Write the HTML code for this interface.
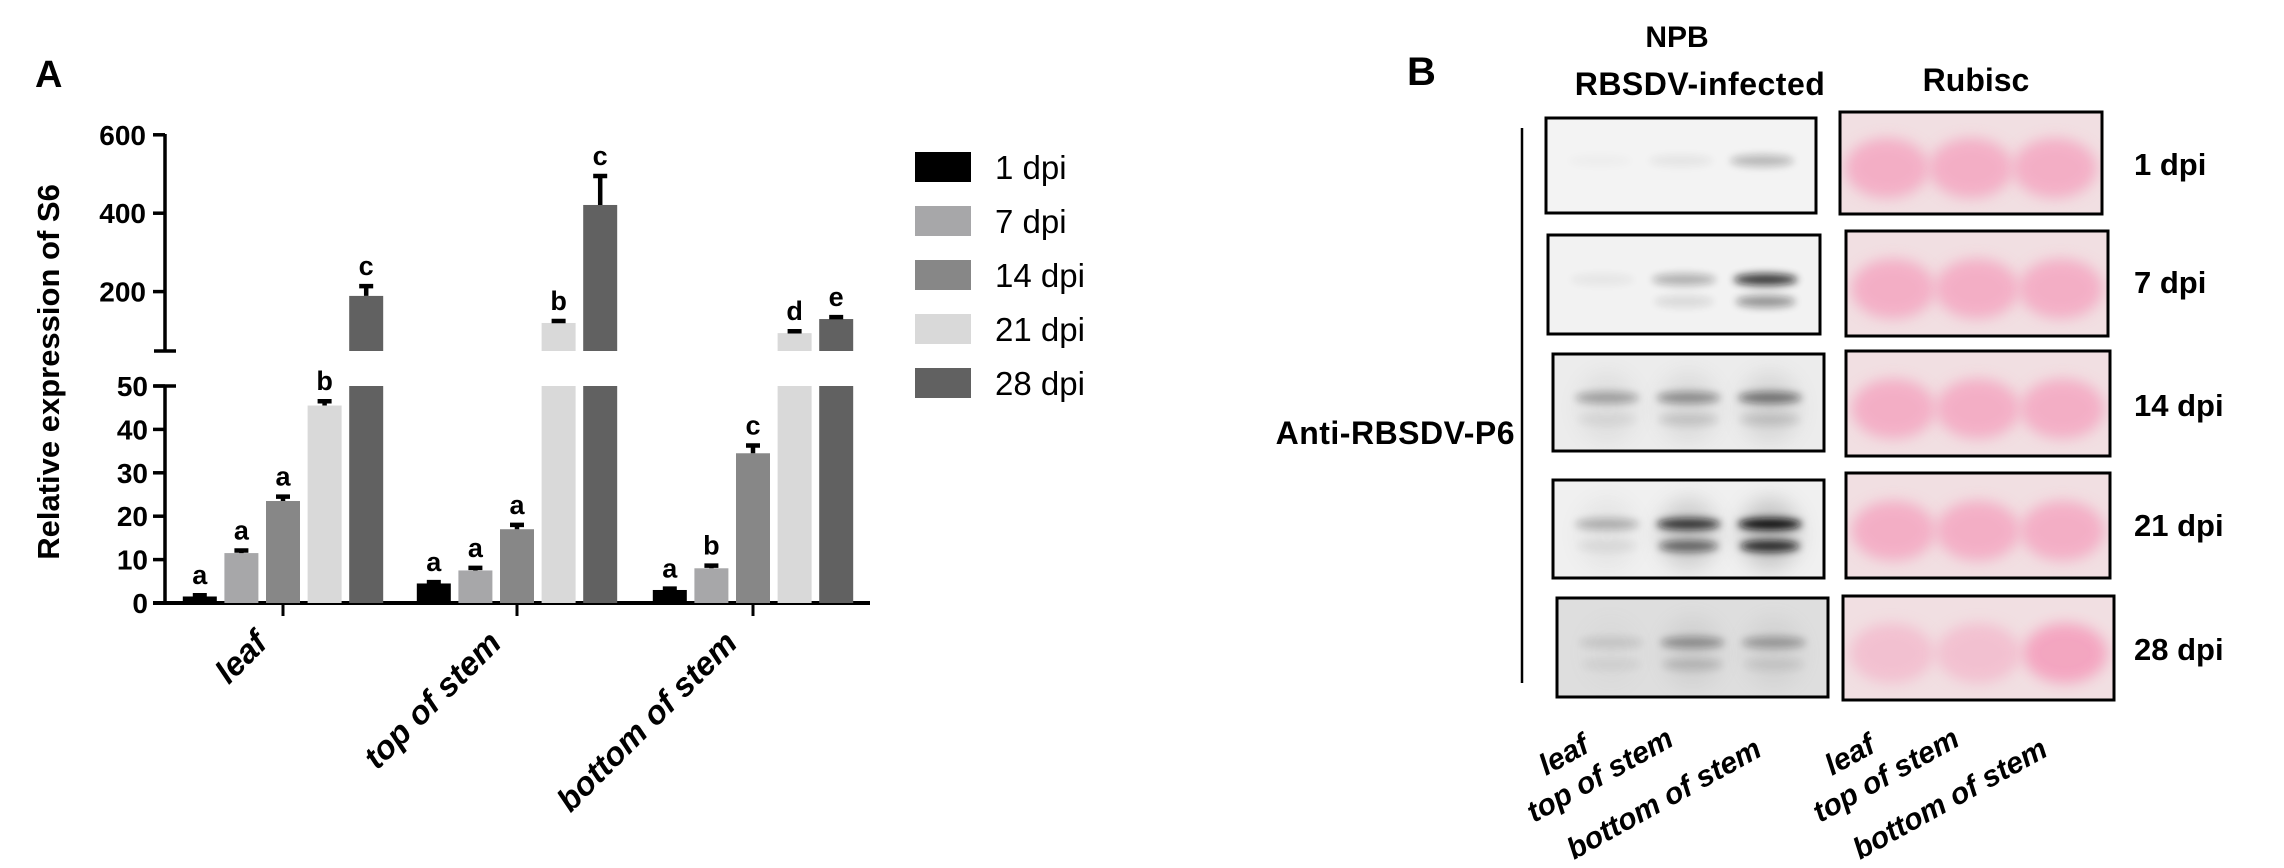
<!DOCTYPE html>
<html><head><meta charset="utf-8"><style>
html,body{margin:0;padding:0;background:#fff;}
svg{display:block;font-family:"Liberation Sans",Arial,sans-serif;}
</style></head><body>
<svg id="fig" width="2284" height="868" viewBox="0 0 2284 868">
<defs>
<filter id="blur6" x="-50%" y="-100%" width="200%" height="300%"><feGaussianBlur stdDeviation="7"/></filter>
<filter id="blur3" x="-50%" y="-100%" width="200%" height="300%"><feGaussianBlur stdDeviation="4"/></filter>
<filter id="blur10" x="-50%" y="-100%" width="200%" height="300%"><feGaussianBlur stdDeviation="10"/></filter>
</defs>
<g id="panelA"></g>
<g id="panelB"></g>
</svg>
<script>
const categories = ["leaf","top of stem","bottom of stem"];
const seriesNames = ["1 dpi","7 dpi","14 dpi","21 dpi","28 dpi"];
const seriesColors = ["#000000","#a7a7a9","#878787","#d9d9d9","#616161"];
const v1 = [1.5, 4.5, 3];
const v7 = [11.5, 7.5, 8];
const v14 = [23.5, 17, 34.5];
const v21 = [45.5, 120, 94];
const v28 = [189, 421, 130];
const e1 = [0.3, 0.3, 0.3];
const e7 = [0.6, 0.6, 0.6];
const e14 = [1, 1, 1.8];
const e21 = [1, 5, 5];
const e28 = [25, 74, 5];
const sig1 = ["a","a","a"];
const sig7 = ["a","a","b"];
const sig14 = ["a","a","c"];
const sig21 = ["b","b","d"];
const sig28 = ["c","c","e"];
const lowerTicks = [0,10,20,30,40,50];
const upperTicks = [200,400,600];

const NS="http://www.w3.org/2000/svg";
function mk(tag, attrs, parent){const e=document.createElementNS(NS,tag);for(const k in attrs)e.setAttribute(k,attrs[k]);parent.appendChild(e);return e;}
const A=document.getElementById('panelA');
const B=document.getElementById('panelB');

const LOW_MAX=50, LOW0=603, LOWTOP=386, UPBOT=351;
function yLow(v){return LOW0-(Math.min(v,LOW_MAX))*(LOW0-LOWTOP)/LOW_MAX;}
function yUp(v){return 370-0.392*v;}
function yTop(v){return v>LOW_MAX?yUp(v):yLow(v);}
const groupCenters=[283,517,753];
function xBar(g,s){return groupCenters[g]+(s-2)*41.6;}
const BW=34;

let t;
t=mk('text',{x:35,y:87,'font-size':38,'font-weight':'bold'},A);t.textContent="A";



const axisG=mk('g',{stroke:'#000','stroke-width':3.5},A);


mk('line',{x1:165,y1:134,x2:165,y2:UPBOT},axisG);
mk('line',{x1:165,y1:LOWTOP,x2:165,y2:LOW0},axisG);
mk('line',{x1:154,y1:UPBOT,x2:176,y2:UPBOT},axisG);
mk('line',{x1:154,y1:LOWTOP,x2:176,y2:LOWTOP},axisG);
lowerTicks.forEach(v=>{mk('line',{x1:153,y1:yLow(v),x2:165,y2:yLow(v)},axisG);
 const tt=mk('text',{x:148,y:yLow(v)+10,'font-size':28,'font-weight':'bold','text-anchor':'end',stroke:'none'},A);tt.textContent=v;
 
 });
upperTicks.forEach(v=>{mk('line',{x1:153,y1:yUp(v),x2:165,y2:yUp(v)},axisG);
 const tt=mk('text',{x:146,y:yUp(v)+10,'font-size':28,'font-weight':'bold','text-anchor':'end',stroke:'none'},A);tt.textContent=v;
 
 });
t=mk('text',{x:0,y:0,'font-size':31,'font-weight':'bold','text-anchor':'middle',transform:'translate(59,372) rotate(-90)'},A);
t.textContent="Relative expression of S6";



const xa=mk('line',{x1:153,y1:LOW0,x2:870,y2:LOW0,stroke:'#000','stroke-width':4},A);


categories.forEach((c,i)=>{
 const tk=mk('line',{x1:groupCenters[i],y1:LOW0,x2:groupCenters[i],y2:616,stroke:'#000','stroke-width':3},A);
 
 
 const tt=mk('text',{x:0,y:0,'font-size':33,'font-weight':'bold','font-style':'italic','text-anchor':'end',transform:`translate(${groupCenters[i]-14},645) rotate(-45)`},A);
 tt.textContent=c;
 
 
});

const vals=[v1,v7,v14,v21,v28], errs=[e1,e7,e14,e21,e28], sigs=[sig1,sig7,sig14,sig21,sig28];
vals.forEach((arr,s)=>{
 arr.forEach((v,g)=>{
  const x=xBar(g,s)-BW/2;
  const col=seriesColors[s];
  const lowTop=yLow(v);
  const r=mk('rect',{x:x,y:lowTop,width:BW,height:LOW0-lowTop,fill:col},A);
  
  
  if(v>LOW_MAX){
   const r2=mk('rect',{x:x,y:yUp(v),width:BW,height:UPBOT-yUp(v),fill:col},A);
   
   
  }
  const yt=yTop(v), ye=v>LOW_MAX?yUp(v+errs[s][g]):yLow(v+errs[s][g]);
  const cx=xBar(g,s);
  const eb=mk('path',{d:`M${cx},${yt} V${ye} M${cx-7},${ye} H${cx+7}`,stroke:'#000','stroke-width':4.5,fill:'none'},A);
  
  
  const lt=mk('text',{x:cx,y:ye-11,'font-size':27,'font-weight':'bold','text-anchor':'middle'},A);
  lt.textContent=sigs[s][g];
  
  
 });
});

seriesNames.forEach((n,i)=>{
 const y=152+i*54;
 const sw=mk('rect',{x:915,y:y,width:56,height:30,fill:seriesColors[i]},A);
 
 
 const lt=mk('text',{x:995,y:y+27,'font-size':33},A);
 lt.textContent=n;
 
 
});

// ---------- Panel B ----------
function txt(x,y,s,str,opts,name){const e=mk('text',Object.assign({x:x,y:y,'font-size':s,'font-weight':'bold'},opts||{}),B);e.textContent=str;
 
 return e;}
txt(1407,85,40,"B",{},'panel-b-label');
txt(1677,47,30,"NPB",{'text-anchor':'middle'},'npb-header');
txt(1700,95,32,"RBSDV-infected",{'text-anchor':'middle','letter-spacing':'0.5'},'rbsdv-infected-header');
txt(1976,91,32,"Rubisc",{'text-anchor':'middle'},'rubisc-header');
txt(1515,444,32,"Anti-RBSDV-P6",{'text-anchor':'end','letter-spacing':'0.5'},'antibody-label');
const vl=mk('line',{x1:1522,y1:128,x2:1522,y2:683,stroke:'#000','stroke-width':2.5},B);



const leftBoxes=[[1546,118,270,95],[1548,235,272,99],[1553,354,271,97],[1553,480,271,98],[1557,598,271,99]];
const rightBoxes=[[1840,112,262,102],[1846,231,262,105],[1846,351,264,105],[1846,473,264,105],[1843,596,271,104]];
const dpiLabels=["1 dpi","7 dpi","14 dpi","21 dpi","28 dpi"];
const dpiY=[165,283,406,526,650];
const bands=[
 [[0.02,0],[0.06,0],[0.25,0]],
 [[0.05,0],[0.28,0.1],[0.8,0.4]],
 [[0.3,0.05],[0.38,0.12],[0.5,0.12]],
 [[0.25,0.06],[0.8,0.55],[1,0.85]],
 [[0.1,0.05],[0.35,0.15],[0.3,0.08]]
];
const bgGray=["#f3f3f3","#f2f2f2","#ececec","#f0f0f0","#dedede"];
leftBoxes.forEach((b,i)=>{
 const g=mk('g',{},B);
 
 
 const cid='clipL'+i;
 const cp=mk('clipPath',{id:cid},g);mk('rect',{x:b[0],y:b[1],width:b[2],height:b[3]},cp);
 mk('rect',{x:b[0],y:b[1],width:b[2],height:b[3],fill:bgGray[i]},g);
 const inner=mk('g',{'clip-path':`url(#${cid})`},g);
 for(let l=0;l<3;l++){
  const cx=b[0]+b[2]*(0.2+0.3*l);
  const by=b[1]+b[3]*0.45;
  if(i>=2){mk('ellipse',{cx:cx,cy:b[1]+b[3]*0.55,rx:30,ry:35,fill:'#777',opacity:bands[i][l][0]*0.35,filter:'url(#blur10)'},inner);}
  mk('ellipse',{cx:cx,cy:by,rx:32,ry:6,fill:'#111',opacity:bands[i][l][0],filter:'url(#blur3)'},inner);
  mk('ellipse',{cx:cx,cy:by+22,rx:30,ry:6,fill:'#111',opacity:bands[i][l][1],filter:'url(#blur3)'},inner);
 }
 mk('rect',{x:b[0],y:b[1],width:b[2],height:b[3],fill:'none',stroke:'#000','stroke-width':3},g);
});
rightBoxes.forEach((b,i)=>{
 const g=mk('g',{},B);
 
 
 const cid='clipR'+i;
 const cp=mk('clipPath',{id:cid},g);mk('rect',{x:b[0],y:b[1],width:b[2],height:b[3]},cp);
 mk('rect',{x:b[0],y:b[1],width:b[2],height:b[3],fill:'#f1dfe2'},g);
 const inner=mk('g',{'clip-path':`url(#${cid})`},g);
 for(let l=0;l<3;l++){
  const cx=b[0]+b[2]*(0.18+0.32*l);
  const op=i===4?[0.5,0.5,0.95][l]:0.8;
  mk('ellipse',{cx:cx,cy:b[1]+b[3]*0.55,rx:42,ry:30,fill:'#f4a3bf',opacity:op,filter:'url(#blur6)'},inner);
 }
 mk('rect',{x:b[0],y:b[1],width:b[2],height:b[3],fill:'none',stroke:'#000','stroke-width':3},g);
 txt(2134,dpiY[i]+10,31,dpiLabels[i],{},'timepoint-label');
});
const laneNames=["leaf","top of stem","bottom of stem"];
const laneAnch=[[1546,776],[1534,823],[1574,860]];
[0,286].forEach((dx,k)=>{
 laneNames.forEach((n,i)=>{
  const e=mk('text',{x:0,y:0,'font-size':30,'font-weight':'bold','font-style':'italic',transform:`translate(${laneAnch[i][0]+dx},${laneAnch[i][1]}) rotate(-29)`},B);
  e.textContent=n;
  
  
 });
});
</script>
</body></html>
